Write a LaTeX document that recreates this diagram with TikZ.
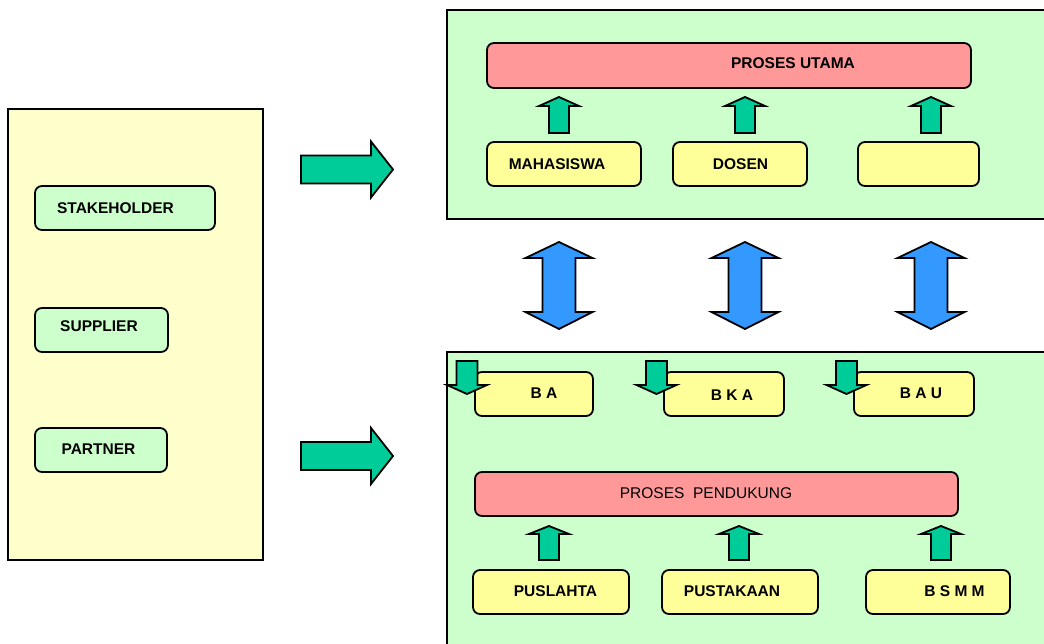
\documentclass[tikz,border=0pt]{standalone}
\usepackage{fontspec}
\setmainfont{Liberation Sans}
\usepackage{tikz}
\usetikzlibrary{calc}
\definecolor{paleyellow}{HTML}{FFFFCC}
\definecolor{palegreen}{HTML}{CCFFCC}
\definecolor{salmon}{HTML}{FF9999}
\definecolor{lightyellow}{HTML}{FFFF99}
\definecolor{teal}{HTML}{00CC99}
\definecolor{skyblue}{HTML}{3399FF}

\begin{document}
\begin{tikzpicture}[x=1pt, y=-1pt,
  panel/.style={draw, line width=1.8pt},
  item/.style={draw, line width=1.8pt, rounded corners=7pt},
  blockarrow/.style={draw, line width=1.8pt, line join=miter},
  lbl/.style={inner sep=0pt, font=\fontsize{15.5}{18}\selectfont\bfseries},
  plainlbl/.style={inner sep=0pt, font=\fontsize{15.5}{18}\selectfont}]
  \clip (0,0) rectangle (1044,643);
  % kiri: pihak luar
  \draw[panel, fill=paleyellow] (8,109) rectangle (263,560);
  \draw[item, fill=palegreen] (35,186) rectangle (215,230);
  \node[lbl] (stake) at (115.5,208) {STAKEHOLDER};
  \draw[item, fill=palegreen] (35,308) rectangle (168,352);
  \node[lbl] (supp) at (99,326) {SUPPLIER};
  \draw[item, fill=palegreen] (35,428) rectangle (167,472);
  \node[lbl] (partner) at (98.5,449) {PARTNER};
  % panah ke kanan
  \foreach \y in {169.5,456}
    \draw[blockarrow, fill=teal] (393,\y) -- ++(-22,-28) -- ++(0,14) -- ++(-70,0)
      -- ++(0,28) -- ++(70,0) -- ++(0,14) -- cycle;
  % atas: proses utama
  \draw[panel, fill=palegreen] (447,10) rectangle (1060,219);
  \draw[item, fill=salmon] (487,43) rectangle (971,88);
  \node[lbl] (utama) at (793,63) {PROSES UTAMA};
  \foreach \x in {559,745,931}
    \draw[blockarrow, fill=teal] (\x,97) -- ++(20,9) -- ++(-10,0) -- ++(0,27)
      -- ++(-20,0) -- ++(0,-27) -- ++(-10,0) -- cycle;
  \draw[item, fill=lightyellow] (487,142) rectangle (641,186);
  \node[lbl] (mhs) at (557,164) {MAHASISWA};
  \draw[item, fill=lightyellow] (673,142) rectangle (807,186);
  \node[lbl] (dosen) at (740.5,164) {DOSEN};
  \draw[item, fill=lightyellow] (858,142) rectangle (979,186);
  % panah dua arah
  \foreach \x in {559,745,931}
    \draw[blockarrow, fill=skyblue] (\x,242) -- ++(33.5,16) -- ++(-17,0) -- ++(0,54)
      -- ++(17,0) -- ++(-33.5,17) -- ++(-33.5,-17) -- ++(17,0) -- ++(0,-54)
      -- ++(-17,0) -- cycle;
  % bawah: proses pendukung
  \draw[panel, fill=palegreen] (447,352) rectangle (1060,660);
  \draw[item, fill=lightyellow] (475,372) rectangle (593,416);
  \node[lbl] (ba) at (544,393) {B A};
  \draw[item, fill=lightyellow] (664,372) rectangle (784,416);
  \node[lbl] (bka) at (732,395) {B K A};
  \draw[item, fill=lightyellow] (854,372) rectangle (974,416);
  \node[lbl] (bau) at (921,393) {B A U};
  \foreach \x in {467,656.5,846.5}
    \draw[blockarrow, fill=teal] (\x,394) -- ++(20,-9) -- ++(-9.5,0) -- ++(0,-24)
      -- ++(-21,0) -- ++(0,24) -- ++(-9.5,0) -- cycle;
  \draw[item, fill=salmon] (475,472) rectangle (958,516);
  \node[plainlbl] (pendukung) at (706,493) {PROSES\ \ PENDUKUNG};
  \foreach \x in {549,739,941}
    \draw[blockarrow, fill=teal] (\x,526) -- ++(20,8) -- ++(-10,0) -- ++(0,26)
      -- ++(-20,0) -- ++(0,-26) -- ++(-10,0) -- cycle;
  \draw[item, fill=lightyellow] (473,570) rectangle (629,614);
  \node[lbl] (puslahta) at (555.5,591) {PUSLAHTA};
  \draw[item, fill=lightyellow] (662,570) rectangle (818,614);
  \node[lbl] (pustaka) at (732,591) {PUSTAKAAN};
  \draw[item, fill=lightyellow] (866,570) rectangle (1010,614);
  \node[lbl] (bsmm) at (954.5,591) {B S M M};
\end{tikzpicture}
\end{document}
